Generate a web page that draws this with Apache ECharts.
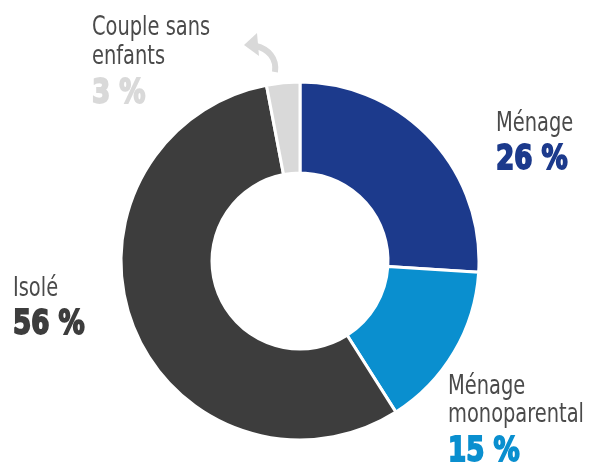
<!DOCTYPE html>
<html><head><meta charset="utf-8">
<script src="https://cdn.jsdelivr.net/npm/echarts@6/dist/echarts.min.js"></script>
<style>html,body{margin:0;padding:0;background:#fff}#c{width:595px;height:465px}</style>
</head><body><div id="c"></div>
<script>
const categories = ["Ménage", "Ménage monoparental", "Isolé", "Couple sans enfants"];
const labelLines = [["Ménage"], ["Ménage", "monoparental"], ["Isolé"], ["Couple sans", "enfants"]];
const values = [26, 15, 56, 3];
const colors = ["#1c3a8c", "#0a8fcf", "#3d3d3d", "#d9d9d9"];

const chart = echarts.init(document.getElementById('c'));
const labelFont = '"DejaVu Sans Condensed", "DejaVu Sans", sans-serif';
const pos = [
  {x: 496, y: 110, pct: 144, lh: 28},
  {x: 448, y: 373, pct: 436, lh: 28},
  {x: 13, y: 275, pct: 309, lh: 28},
  {x: 92, y: 13, pct: 78, lh: 29}
];
const graphics = [];
categories.forEach((c, i) => {
  graphics.push({type: 'text', x: pos[i].x, y: pos[i].y, scaleX: 0.8, style: {
    text: labelLines[i].join('\n'), fill: '#4a4a4a', font: '27px ' + labelFont, lineHeight: pos[i].lh
  }});
  graphics.push({type: 'text', x: pos[i].x, y: pos[i].pct, scaleX: 0.88, style: {
    text: values[i] + ' %', fill: colors[i], stroke: colors[i], lineWidth: 1.8, font: 'bold 33px ' + labelFont
  }});
});
graphics.push({type: 'bezierCurve', shape: {x1: 275, y1: 72, x2: 256, y2: 46, cpx1: 277, cpy1: 58, cpx2: 268, cpy2: 49}, style: {stroke: '#d9d9d9', lineWidth: 6, fill: null}});
graphics.push({type: 'polygon', shape: {points: [[244, 45], [257, 33], [259, 56]]}, style: {fill: '#d9d9d9'}});

chart.setOption({
  animation: false,
  color: colors,
  series: [{
    type: 'pie',
    center: [300, 261],
    radius: [88, 179],
    startAngle: 90,
    clockwise: true,
    label: {show: false},
    labelLine: {show: false},
    itemStyle: {borderColor: '#fff', borderWidth: 3},
    data: categories.map((c, i) => ({name: c, value: values[i]}))
  }],
  graphic: graphics
});
</script></body></html>
